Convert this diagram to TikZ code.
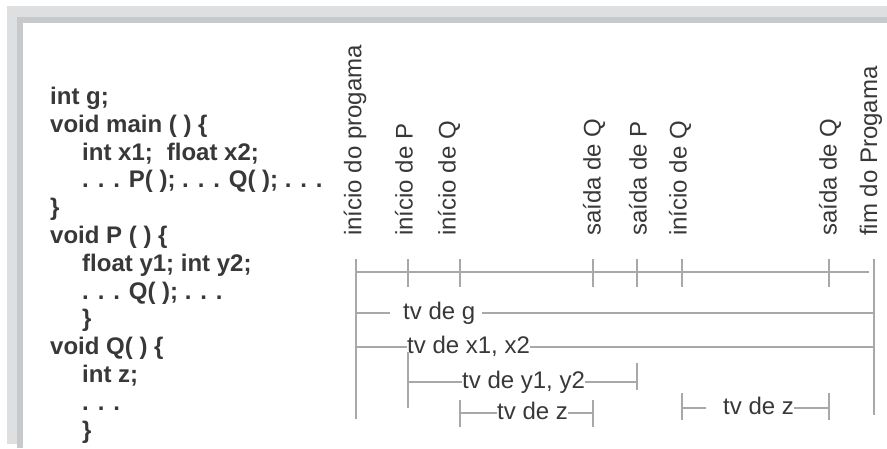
\documentclass[tikz,border=0pt]{standalone}
\usepackage{fontspec}
\setmainfont{Liberation Sans}
\usetikzlibrary{calc}
\definecolor{frameA}{HTML}{DEDFE1}
\definecolor{frameB}{HTML}{C8C9CB}
\definecolor{txt}{HTML}{383838}
\definecolor{lncol}{HTML}{A8A8A8}
\tikzset{
  lnstyle/.style={draw=lncol, line width=1.1pt},
  lbl/.style={text=txt, font=\fontsize{24}{28}\selectfont, inner sep=0pt, anchor=base west},
  vlbl/.style={text=txt, font=\fontsize{24}{28}\selectfont, inner sep=0pt, rotate=90, anchor=west},
  codebox/.style={text=txt, font=\fontsize{24}{27.8}\selectfont\bfseries, inner sep=0pt, anchor=base west, align=left}
}
\newcommand{\ind}{\hspace*{32pt}}
\begin{document}
\begin{tikzpicture}[x=1pt,y=-1pt]
\useasboundingbox (0,0) rectangle (887,448);
% frame
\fill[frameA] (7,6) rectangle (887,444);
\fill[frameB] (17,17) rectangle (887,448);
\fill[white] (23,23) rectangle (887,448);

% code
\node[codebox] (code) at (50,438) {int g;\\
void main ( ) \{\\
\ind int x1;\hspace{14pt}float x2;\\
\ind . . . P( ); . . . Q( ); . . .\\
\}\\
void P ( ) \{\\
\ind float y1; int y2;\\
\ind . . . Q( ); . . .\\
\ind \}\\
void Q( ) \{\\
\ind int z;\\
\ind . . .\\
\ind \}};

% vertical labels
\node[vlbl] (l1) at (355,236) {início do progama};
\node[vlbl] (l2) at (404,236) {início de P};
\node[vlbl] (l3) at (449,236) {início de Q};
\node[vlbl] (l4) at (594,236) {saída de Q};
\node[vlbl] (l5) at (638,236) {saída de P};
\node[vlbl] (l6) at (680,236) {início de Q};
\node[vlbl] (l7) at (830,236) {saída de Q};
\node[vlbl] (l8) at (871,236) {fim do Progama};

% timeline
\coordinate (t1) at (356,272);
\coordinate (t2) at (408,272);
\coordinate (t3) at (460,272);
\coordinate (t4) at (593,272);
\coordinate (t5) at (637,272);
\coordinate (t6) at (682,272);
\coordinate (t7) at (829,272);
\coordinate (t8) at (874,272);
\coordinate (tEnd) at (869,272);
\draw[lnstyle] (t1) -- (tEnd);
\foreach \t in {t2,t3,t4,t5,t6,t7}{
  \draw[lnstyle] ($(\t)+(0,-13)$) -- ($(\t)+(0,15)$);
}
\coordinate (v1a) at (356,259);
\coordinate (v1b) at (356,419);
\coordinate (v8a) at (874,259);
\coordinate (v8b) at (874,415);
\draw[lnstyle] (v1a) -- (v1b);
\draw[lnstyle] (v8a) -- (v8b);

% tv de g
\node[lbl] (g) at (403,319) {tv de g};
\coordinate (gL) at (356,313);
\coordinate (gR) at (874,313);
\draw[lnstyle, shorten >=13pt] (gL) -- (gL -| g.west);
\draw[lnstyle, shorten <=7pt] (gR -| g.east) -- (gR);

% tv de x1, x2
\node[lbl] (x) at (407,353) {tv de x1, x2};
\coordinate (xL) at (356,347);
\coordinate (xR) at (874,347);
\draw[lnstyle] (xL) -- (xL -| x.west);
\draw[lnstyle] (xR -| x.east) -- (xR);

% P lifetime
\coordinate (pA) at (408,352);
\coordinate (pB) at (408,408);
\draw[lnstyle] (pA) -- (pB);
\node[lbl] (y) at (462,388) {tv de y1, y2};
\coordinate (yL) at (408,382);
\coordinate (yR) at (637,382);
\coordinate (yRa) at (637,363);
\coordinate (yRb) at (637,390);
\draw[lnstyle] (yL) -- (yL -| y.west);
\draw[lnstyle] (yR -| y.east) -- (yR);
\draw[lnstyle] (yRa) -- (yRb);

% first Q
\coordinate (zAa) at (460,400);
\coordinate (zAb) at (460,427);
\coordinate (zAL) at (460,413);
\coordinate (zAR) at (593,413);
\coordinate (zBa) at (593,400);
\coordinate (zBb) at (593,427);
\node[lbl] (z1) at (497,419) {tv de z};
\draw[lnstyle] (zAa) -- (zAb);
\draw[lnstyle] (zBa) -- (zBb);
\draw[lnstyle] (zAL) -- (zAL -| z1.west);
\draw[lnstyle] (zAR -| z1.east) -- (zAR);

% second Q
\coordinate (zCa) at (682,393);
\coordinate (zCb) at (682,420);
\coordinate (zCL) at (682,408);
\coordinate (zCR) at (829,408);
\coordinate (zDa) at (829,393);
\coordinate (zDb) at (829,420);
\node[lbl] (z2) at (723,414) {tv de z};
\draw[lnstyle] (zCa) -- (zCb);
\draw[lnstyle] (zDa) -- (zDb);
\draw[lnstyle, shorten >=17pt] (zCL) -- (zCL -| z2.west);
\draw[lnstyle] (zCR -| z2.east) -- (zCR);
\end{tikzpicture}
\end{document}
